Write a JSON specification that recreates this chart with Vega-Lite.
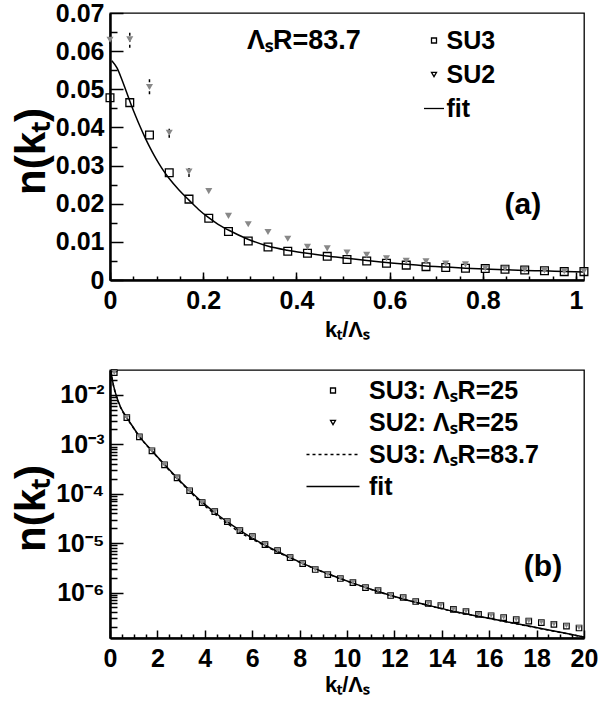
{
  "$schema": "https://vega.github.io/schema/vega-lite/v6.json",
  "background": "white",
  "autosize": {"type": "pad"},
  "padding": {"left": 9, "top": 0, "right": 8, "bottom": 0},
  "bounds": "flush",
  "spacing": 90,
  "datasets": {
    "topPts": [
      {"k":0,"n":0.0478,"series":"SU3"},
      {"k":0.0424,"n":0.0465,"series":"SU3"},
      {"k":0.0847,"n":0.038,"series":"SU3"},
      {"k":0.1271,"n":0.0281,"series":"SU3"},
      {"k":0.1695,"n":0.0212,"series":"SU3"},
      {"k":0.2119,"n":0.0162,"series":"SU3"},
      {"k":0.2542,"n":0.0127,"series":"SU3"},
      {"k":0.2966,"n":0.0102,"series":"SU3"},
      {"k":0.339,"n":0.00865,"series":"SU3"},
      {"k":0.3814,"n":0.00752,"series":"SU3"},
      {"k":0.4237,"n":0.007,"series":"SU3"},
      {"k":0.4661,"n":0.0062,"series":"SU3"},
      {"k":0.5085,"n":0.0054,"series":"SU3"},
      {"k":0.5508,"n":0.005,"series":"SU3"},
      {"k":0.5932,"n":0.0044,"series":"SU3"},
      {"k":0.6356,"n":0.0039,"series":"SU3"},
      {"k":0.678,"n":0.0035,"series":"SU3"},
      {"k":0.7203,"n":0.0033,"series":"SU3"},
      {"k":0.7627,"n":0.0031,"series":"SU3"},
      {"k":0.8051,"n":0.003,"series":"SU3"},
      {"k":0.8475,"n":0.0028,"series":"SU3"},
      {"k":0.8898,"n":0.0026,"series":"SU3"},
      {"k":0.9322,"n":0.0024,"series":"SU3"},
      {"k":0.9746,"n":0.0022,"series":"SU3"},
      {"k":1.0169,"n":0.0022,"series":"SU3"},
      {"k":0,"n":0.063,"lo":0.062,"hi":0.064,"series":"SU2"},
      {"k":0.0424,"n":0.0631,"lo":0.0609,"hi":0.0653,"series":"SU2"},
      {"k":0.0847,"n":0.0506,"lo":0.0487,"hi":0.0526,"series":"SU2"},
      {"k":0.1271,"n":0.0386,"lo":0.0373,"hi":0.0398,"series":"SU2"},
      {"k":0.1695,"n":0.0284,"lo":0.027,"hi":0.0294,"series":"SU2"},
      {"k":0.2119,"n":0.0233,"series":"SU2"},
      {"k":0.2542,"n":0.0168,"series":"SU2"},
      {"k":0.2966,"n":0.0146,"series":"SU2"},
      {"k":0.339,"n":0.0126,"series":"SU2"},
      {"k":0.3814,"n":0.0108,"series":"SU2"},
      {"k":0.4237,"n":0.0087,"series":"SU2"},
      {"k":0.4661,"n":0.0083,"series":"SU2"},
      {"k":0.5085,"n":0.0072,"series":"SU2"},
      {"k":0.5508,"n":0.0066,"series":"SU2"},
      {"k":0.5932,"n":0.0057,"series":"SU2"},
      {"k":0.6356,"n":0.005,"series":"SU2"},
      {"k":0.678,"n":0.0049,"series":"SU2"},
      {"k":0.7203,"n":0.0043,"series":"SU2"},
      {"k":0.7627,"n":0.0041,"series":"SU2"},
      {"k":0.8051,"n":0.0031,"series":"SU2"},
      {"k":0.8475,"n":0.003,"series":"SU2"},
      {"k":0.8898,"n":0.0027,"series":"SU2"},
      {"k":0.9322,"n":0.0025,"series":"SU2"},
      {"k":0.9746,"n":0.0023,"series":"SU2"},
      {"k":1.0169,"n":0.0023,"series":"SU2"}
    ],
    "topFit": [
      {"k":0.004,"n":0.0575},{"k":0.015,"n":0.0556},{"k":0.025,"n":0.0527},{"k":0.035,"n":0.0494},
      {"k":0.045,"n":0.0461},{"k":0.055,"n":0.043},{"k":0.065,"n":0.0401},{"k":0.075,"n":0.0374},
      {"k":0.085,"n":0.0349},{"k":0.095,"n":0.0326},{"k":0.105,"n":0.0305},{"k":0.115,"n":0.0286},
      {"k":0.127,"n":0.0266},{"k":0.148,"n":0.0236},{"k":0.169,"n":0.021},{"k":0.19,"n":0.0185},
      {"k":0.211,"n":0.0164},{"k":0.232,"n":0.0146},{"k":0.254,"n":0.0131},{"k":0.296,"n":0.0107},
      {"k":0.338,"n":0.0089},{"k":0.38,"n":0.0078},{"k":0.423,"n":0.007},{"k":0.465,"n":0.0063},
      {"k":0.508,"n":0.0057},{"k":0.551,"n":0.0051},{"k":0.593,"n":0.0046},{"k":0.636,"n":0.0041},
      {"k":0.678,"n":0.0037},{"k":0.72,"n":0.0034},{"k":0.763,"n":0.0031},{"k":0.805,"n":0.0029},
      {"k":0.847,"n":0.0027},{"k":0.89,"n":0.0025},{"k":0.932,"n":0.0024},{"k":0.975,"n":0.0022},
      {"k":1.017,"n":0.0021}
    ],
    "botPts": [
      {"k":0.18,"n":0.0282,"s":"SU3: ΛₛR=25"},{"k":0.71,"n":0.00348,"s":"SU3: ΛₛR=25"},{"k":1.24,"n":0.00142,"s":"SU3: ΛₛR=25"},
      {"k":1.77,"n":0.00074,"s":"SU3: ΛₛR=25"},{"k":2.3,"n":0.000385,"s":"SU3: ΛₛR=25"},{"k":2.83,"n":0.00021,"s":"SU3: ΛₛR=25"},
      {"k":3.36,"n":0.000115,"s":"SU3: ΛₛR=25"},{"k":3.89,"n":0.0000658,"s":"SU3: ΛₛR=25"},{"k":4.42,"n":0.0000433,"s":"SU3: ΛₛR=25"},
      {"k":4.95,"n":0.0000272,"s":"SU3: ΛₛR=25"},{"k":5.48,"n":0.0000179,"s":"SU3: ΛₛR=25"},{"k":6.01,"n":0.0000135,"s":"SU3: ΛₛR=25"},
      {"k":6.54,"n":0.00000933,"s":"SU3: ΛₛR=25"},{"k":7.07,"n":0.00000705,"s":"SU3: ΛₛR=25"},{"k":7.6,"n":0.00000509,"s":"SU3: ΛₛR=25"},
      {"k":8.13,"n":0.00000385,"s":"SU3: ΛₛR=25"},{"k":8.66,"n":0.00000292,"s":"SU3: ΛₛR=25"},{"k":9.19,"n":0.00000231,"s":"SU3: ΛₛR=25"},
      {"k":9.72,"n":0.00000192,"s":"SU3: ΛₛR=25"},{"k":10.25,"n":0.00000159,"s":"SU3: ΛₛR=25"},{"k":10.78,"n":0.00000126,"s":"SU3: ΛₛR=25"},
      {"k":11.31,"n":0.0000011,"s":"SU3: ΛₛR=25"},{"k":11.84,"n":0.000000869,"s":"SU3: ΛₛR=25"},{"k":12.37,"n":0.000000792,"s":"SU3: ΛₛR=25"},
      {"k":12.9,"n":0.000000658,"s":"SU3: ΛₛR=25"},{"k":13.43,"n":0.0000006,"s":"SU3: ΛₛR=25"},{"k":13.96,"n":0.000000546,"s":"SU3: ΛₛR=25"},
      {"k":14.49,"n":0.000000454,"s":"SU3: ΛₛR=25"},{"k":15.02,"n":0.000000413,"s":"SU3: ΛₛR=25"},{"k":15.55,"n":0.00000036,"s":"SU3: ΛₛR=25"},
      {"k":16.08,"n":0.000000339,"s":"SU3: ΛₛR=25"},{"k":16.61,"n":0.000000309,"s":"SU3: ΛₛR=25"},{"k":17.14,"n":0.000000282,"s":"SU3: ΛₛR=25"},
      {"k":17.67,"n":0.000000263,"s":"SU3: ΛₛR=25"},{"k":18.2,"n":0.000000245,"s":"SU3: ΛₛR=25"},{"k":18.73,"n":0.000000226,"s":"SU3: ΛₛR=25"},
      {"k":19.26,"n":0.000000209,"s":"SU3: ΛₛR=25"},{"k":19.79,"n":0.000000191,"s":"SU3: ΛₛR=25"},
      {"k":0.18,"n":0.0285,"s":"SU2: ΛₛR=25"},{"k":0.71,"n":0.00352,"s":"SU2: ΛₛR=25"},{"k":1.24,"n":0.00143,"s":"SU2: ΛₛR=25"},
      {"k":1.77,"n":0.00075,"s":"SU2: ΛₛR=25"},{"k":2.3,"n":0.00039,"s":"SU2: ΛₛR=25"},{"k":2.83,"n":0.000212,"s":"SU2: ΛₛR=25"},
      {"k":3.36,"n":0.000116,"s":"SU2: ΛₛR=25"},{"k":3.89,"n":0.0000665,"s":"SU2: ΛₛR=25"},{"k":4.42,"n":0.0000438,"s":"SU2: ΛₛR=25"},
      {"k":4.95,"n":0.0000275,"s":"SU2: ΛₛR=25"},{"k":5.48,"n":0.0000181,"s":"SU2: ΛₛR=25"},{"k":6.01,"n":0.0000137,"s":"SU2: ΛₛR=25"},
      {"k":6.54,"n":0.00000945,"s":"SU2: ΛₛR=25"},{"k":7.07,"n":0.00000712,"s":"SU2: ΛₛR=25"},{"k":7.6,"n":0.00000515,"s":"SU2: ΛₛR=25"},
      {"k":8.13,"n":0.0000039,"s":"SU2: ΛₛR=25"},{"k":8.66,"n":0.00000296,"s":"SU2: ΛₛR=25"},{"k":9.19,"n":0.00000234,"s":"SU2: ΛₛR=25"},
      {"k":9.72,"n":0.00000195,"s":"SU2: ΛₛR=25"},{"k":10.25,"n":0.00000161,"s":"SU2: ΛₛR=25"},{"k":10.78,"n":0.00000128,"s":"SU2: ΛₛR=25"},
      {"k":11.31,"n":0.00000112,"s":"SU2: ΛₛR=25"},{"k":11.84,"n":0.000000882,"s":"SU2: ΛₛR=25"},{"k":12.37,"n":0.000000805,"s":"SU2: ΛₛR=25"},
      {"k":12.9,"n":0.000000668,"s":"SU2: ΛₛR=25"},{"k":13.43,"n":0.00000061,"s":"SU2: ΛₛR=25"},{"k":13.96,"n":0.000000555,"s":"SU2: ΛₛR=25"},
      {"k":14.49,"n":0.000000462,"s":"SU2: ΛₛR=25"},{"k":15.02,"n":0.00000042,"s":"SU2: ΛₛR=25"},{"k":15.55,"n":0.000000366,"s":"SU2: ΛₛR=25"},
      {"k":16.08,"n":0.000000345,"s":"SU2: ΛₛR=25"},{"k":16.61,"n":0.000000315,"s":"SU2: ΛₛR=25"},{"k":17.14,"n":0.000000288,"s":"SU2: ΛₛR=25"},
      {"k":17.67,"n":0.000000268,"s":"SU2: ΛₛR=25"},{"k":18.2,"n":0.00000025,"s":"SU2: ΛₛR=25"},{"k":18.73,"n":0.000000231,"s":"SU2: ΛₛR=25"},
      {"k":19.26,"n":0.000000214,"s":"SU2: ΛₛR=25"},{"k":19.79,"n":0.000000196,"s":"SU2: ΛₛR=25"}
    ],
    "botFit": [
      {"k":0.04,"n":0.03},{"k":0.1,"n":0.02},{"k":0.25,"n":0.0102},{"k":0.45,"n":0.00562},
      {"k":0.71,"n":0.00347},{"k":1.0,"n":0.00214},{"k":1.24,"n":0.00145},{"k":1.77,"n":0.000741},
      {"k":2.3,"n":0.000389},{"k":2.83,"n":0.000209},{"k":3.36,"n":0.000117},{"k":3.89,"n":0.0000676},
      {"k":4.42,"n":0.0000417},{"k":4.95,"n":0.0000269},{"k":5.48,"n":0.0000182},{"k":6.01,"n":0.0000126},
      {"k":7.07,"n":0.00000676},{"k":8.13,"n":0.00000389},{"k":9.19,"n":0.0000024},{"k":10.25,"n":0.00000155},
      {"k":11.31,"n":0.00000105},{"k":12.37,"n":0.000000741},{"k":13.43,"n":0.00000055},{"k":14.49,"n":0.000000417},
      {"k":15.55,"n":0.000000331},{"k":16.61,"n":0.000000263},{"k":17.67,"n":0.000000209},{"k":18.73,"n":0.000000166},
      {"k":19.79,"n":0.000000132},{"k":20,"n":0.000000126}
    ],
    "botDot": [
      {"k":0.04,"n":0.03},{"k":0.1,"n":0.0198},{"k":0.25,"n":0.01},{"k":0.45,"n":0.0055},
      {"k":0.71,"n":0.0034},{"k":1.0,"n":0.0021},{"k":1.24,"n":0.00143},{"k":1.77,"n":0.00073},
      {"k":2.3,"n":0.00038},{"k":2.83,"n":0.000203},{"k":3.36,"n":0.000112},{"k":3.89,"n":0.000063},
      {"k":4.42,"n":0.000039},{"k":4.95,"n":0.000025},{"k":5.48,"n":0.0000165},{"k":6.01,"n":0.000012},
      {"k":7.07,"n":0.0000066},{"k":8.13,"n":0.00000385},{"k":9.19,"n":0.00000238},{"k":10.25,"n":0.00000154},
      {"k":11.31,"n":0.00000104},{"k":12.37,"n":0.000000735},{"k":13.43,"n":0.000000545},{"k":14.49,"n":0.000000413},
      {"k":15.55,"n":0.000000328},{"k":16.61,"n":0.000000261},{"k":17.67,"n":0.000000207},{"k":18.73,"n":0.000000165},
      {"k":19.79,"n":0.000000131},{"k":20,"n":0.000000125}
    ]
  },
  "resolve": {"scale": {"x": "independent", "y": "independent", "shape": "independent"}, "legend": {"shape": "independent"}},
  "vconcat": [
    {
      "width": 474,
      "height": 267,
      "resolve": {"axis": {"x": "independent", "y": "independent"}},
      "layer": [
        {
          "data": {"name": "topFit"},
          "mark": {"type": "line", "color": "black", "strokeWidth": 1.5, "interpolate": "monotone", "clip": true},
          "encoding": {
            "x": {"field": "k", "type": "quantitative", "scale": {"domain": [0, 1.017], "nice": false, "zero": false},
              "axis": {"orient": "bottom", "values": [0, 0.2, 0.4, 0.6, 0.8, 1], "format": "~g", "tickSize": -8, "labelPadding": 16.5, "labelFlush": false,
                "title": "kₜ/Λₛ", "titleFontSize": 22, "titleBaseline": "alphabetic", "titleY": 56}},
            "y": {"field": "n", "type": "quantitative", "scale": {"domain": [0, 0.07], "nice": false, "zero": false},
              "axis": {"orient": "left", "values": [0, 0.01, 0.02, 0.03, 0.04, 0.05, 0.06, 0.07], "format": "~g", "tickSize": -13, "labelPadding": 19, "labelFlush": false,
                "title": "n(kₜ)", "titleFontSize": 42, "titleBaseline": "alphabetic", "titleX": -66, "titleY": 138}}
          }
        },
        {
          "data": {"name": "topPts"},
          "transform": [{"filter": "datum.series === 'SU3'"}],
          "mark": {"type": "point", "filled": false, "color": "black", "strokeWidth": 1.3, "size": 60, "opacity": 1},
          "encoding": {
            "x": {"field": "k", "type": "quantitative",
              "axis": {"orient": "bottom", "values": [0,0.05,0.1,0.15,0.2,0.25,0.3,0.35,0.4,0.45,0.5,0.55,0.6,0.65,0.7,0.75,0.8,0.85,0.9,0.95,1], "tickSize": -4, "labels": false, "domain": false, "title": null}},
            "y": {"field": "n", "type": "quantitative",
              "axis": {"orient": "left", "values": [0.005,0.015,0.025,0.035,0.045,0.055,0.065], "tickSize": -7, "labels": false, "domain": false, "title": null}},
            "shape": {"field": "series", "type": "nominal",
              "scale": {"domain": ["SU3", "SU2", "fit"], "range": ["square", "triangle-down", "M-4,0L4,0"]},
              "legend": {"orient": "none", "legendX": 311.5, "legendY": 15, "title": null, "symbolSize": 25, "labelOffset": 0, "rowPadding": 8, "padding": 0,
                "symbolOpacity": 1, "symbolStrokeWidth": 1.3, "labelFontSize": 25,
                "encode": {"symbols": {"update": {
                  "fill": {"signal": "datum.value === 'SU2' ? '#888888' : 'transparent'"},
                  "stroke": {"signal": "datum.value === 'SU2' ? '#888888' : 'black'"}}}}}}
          }
        },
        {
          "data": {"name": "topPts"},
          "transform": [{"filter": "datum.series === 'SU2' && isValid(datum.lo)"}],
          "mark": {"type": "rule", "color": "black", "strokeWidth": 1.5, "strokeDash": [3, 3]},
          "encoding": {
            "x": {"field": "k", "type": "quantitative", "axis": null},
            "y": {"field": "lo", "type": "quantitative", "axis": null},
            "y2": {"field": "hi"}
          }
        },
        {
          "data": {"name": "topPts"},
          "transform": [{"filter": "datum.series === 'SU2'"}],
          "mark": {"type": "point", "filled": true, "color": "#888888", "size": 50, "opacity": 1},
          "encoding": {
            "x": {"field": "k", "type": "quantitative", "axis": null},
            "y": {"field": "n", "type": "quantitative", "axis": null},
            "shape": {"field": "series", "type": "nominal"}
          }
        },
        {
          "data": {"values": [{"t": "ΛₛR=83.7"}]},
          "mark": {"type": "text", "align": "center", "baseline": "alphabetic", "fontSize": 27, "fontWeight": "bold", "color": "black"},
          "encoding": {"x": {"datum": 0.416, "type": "quantitative", "axis": null}, "y": {"datum": 0.0605, "type": "quantitative", "axis": null}, "text": {"field": "t"}}
        },
        {
          "data": {"values": [{"t": "(a)"}]},
          "mark": {"type": "text", "align": "center", "baseline": "alphabetic", "fontSize": 30, "fontWeight": "bold", "color": "black"},
          "encoding": {"x": {"datum": 0.886, "type": "quantitative", "axis": null}, "y": {"datum": 0.0173, "type": "quantitative", "axis": null}, "text": {"field": "t"}}
        }
      ]
    },
    {
      "width": 474,
      "height": 268,
      "resolve": {"axis": {"x": "independent", "y": "independent"}},
      "layer": [
        {
          "data": {"name": "botFit"},
          "mark": {"type": "line", "color": "black", "strokeWidth": 1.5, "interpolate": "monotone", "clip": true},
          "encoding": {
            "x": {"field": "k", "type": "quantitative", "scale": {"domain": [0, 20], "nice": false, "zero": false},
              "axis": {"orient": "bottom", "values": [0,2,4,6,8,10,12,14,16,18,20], "format": "~g", "tickSize": -8, "labelPadding": 16.5, "labelFlush": false,
                "title": "kₜ/Λₛ", "titleFontSize": 22, "titleBaseline": "alphabetic", "titleY": 53}},
            "y": {"field": "n", "type": "quantitative", "scale": {"type": "log", "domain": [0.00000012, 0.032], "nice": false},
              "axis": {"orient": "left", "values": [0.000001, 0.00001, 0.0001, 0.001, 0.01], "tickSize": -13, "labelPadding": 19, "labelFlush": false,
                "labelExpr": "datum.value > 0.005 ? '10⁻²' : datum.value > 0.0005 ? '10⁻³' : datum.value > 0.00005 ? '10⁻⁴' : datum.value > 0.000005 ? '10⁻⁵' : '10⁻⁶'",
                "title": "n(kₜ)", "titleFontSize": 42, "titleBaseline": "alphabetic", "titleX": -66, "titleY": 138}}
          }
        },
        {
          "data": {"name": "botDot"},
          "mark": {"type": "line", "color": "black", "strokeWidth": 1.5, "strokeDash": [3, 3], "interpolate": "monotone", "clip": true},
          "encoding": {
            "x": {"field": "k", "type": "quantitative",
              "axis": {"orient": "bottom", "values": [0.5,1,1.5,2.5,3,3.5,4.5,5,5.5,6.5,7,7.5,8.5,9,9.5,10.5,11,11.5,12.5,13,13.5,14.5,15,15.5,16.5,17,17.5,18.5,19,19.5], "tickSize": -4, "labels": false, "domain": false, "title": null}},
            "y": {"field": "n", "type": "quantitative",
              "axis": {"orient": "left", "values": [0.0000002,0.0000003,0.0000004,0.0000005,0.0000006,0.0000007,0.0000008,0.0000009,0.000002,0.000003,0.000004,0.000005,0.000006,0.000007,0.000008,0.000009,0.00002,0.00003,0.00004,0.00005,0.00006,0.00007,0.00008,0.00009,0.0002,0.0003,0.0004,0.0005,0.0006,0.0007,0.0008,0.0009,0.002,0.003,0.004,0.005,0.006,0.007,0.008,0.009,0.02,0.03], "tickSize": -7, "labels": false, "domain": false, "title": null}}
          }
        },
        {
          "data": {"name": "botPts"},
          "transform": [{"filter": "datum.s === 'SU3: ΛₛR=25'"}],
          "mark": {"type": "point", "filled": false, "color": "black", "strokeWidth": 1.2, "size": 30, "opacity": 1},
          "encoding": {
            "x": {"field": "k", "type": "quantitative", "axis": null},
            "y": {"field": "n", "type": "quantitative", "axis": null},
            "shape": {"field": "s", "type": "nominal",
              "scale": {"domain": ["SU3: ΛₛR=25", "SU2: ΛₛR=25", "SU3: ΛₛR=83.7", "fit"],
                "range": ["square", "triangle-down", "M-10.6,0L-9.4,0M-8.2,0L-7,0M-5.8,0L-4.6,0M-3.4,0L-2.2,0M-1,0L0.2,0M1.4,0L2.6,0M3.8,0L5,0M6.2,0L7.4,0M8.6,0L9.8,0", "M-10.6,0L10.6,0"]},
              "legend": {"orient": "none", "legendX": 210.5, "legendY": 8, "title": null, "symbolSize": 25, "labelOffset": 23.5, "rowPadding": 6, "padding": 0,
                "symbolOpacity": 1, "symbolStrokeWidth": 1.3, "labelFontSize": 25,
                "encode": {"symbols": {"update": {
                  "fill": {"signal": "datum.index === 1 ? '#888888' : 'transparent'"},
                  "stroke": {"signal": "datum.index === 1 ? '#888888' : 'black'"}}}}}}
          }
        },
        {
          "data": {"name": "botPts"},
          "transform": [{"filter": "datum.s === 'SU2: ΛₛR=25'"}],
          "mark": {"type": "point", "filled": true, "color": "#888888", "size": 32, "opacity": 1},
          "encoding": {
            "x": {"field": "k", "type": "quantitative", "axis": null},
            "y": {"field": "n", "type": "quantitative", "axis": null},
            "shape": {"field": "s", "type": "nominal"}
          }
        },
        {
          "data": {"values": [{"t": "(b)"}]},
          "mark": {"type": "text", "align": "center", "baseline": "alphabetic", "fontSize": 30, "fontWeight": "bold", "color": "black"},
          "encoding": {"x": {"datum": 18.27, "type": "quantitative", "axis": null}, "y": {"datum": 0.0000022, "type": "quantitative", "axis": null}, "text": {"field": "t"}}
        }
      ]
    }
  ],
  "config": {
    "font": "Liberation Sans",
    "view": {"stroke": "black", "strokeWidth": 1.3},
    "axis": {"labelFont": "Liberation Sans", "labelFontWeight": "bold", "labelFontSize": 25, "labelColor": "black",
      "titleFont": "Liberation Sans", "titleFontWeight": "bold", "titleColor": "black",
      "domainColor": "black", "domainWidth": 2.5, "tickColor": "black", "tickWidth": 1.5, "grid": false, "labelOverlap": false},
    "legend": {"labelFont": "Liberation Sans", "labelFontWeight": "bold", "labelFontSize": 24, "labelColor": "black", "labelLimit": 400}
  }
}
